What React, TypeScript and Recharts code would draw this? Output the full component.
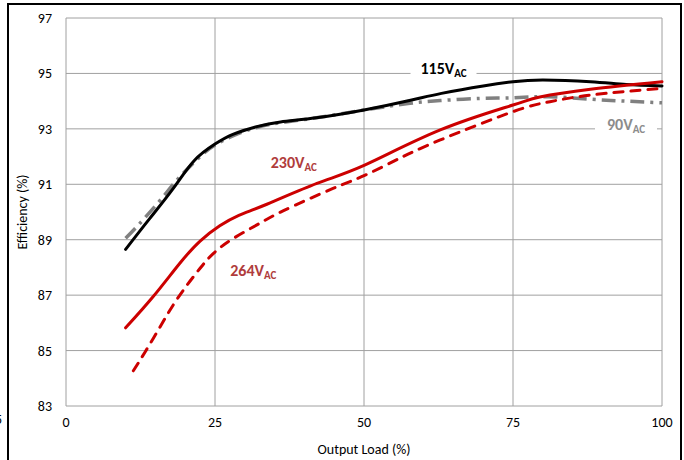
import React from 'react';
import { LineChart, Line, XAxis, YAxis, CartesianGrid, ReferenceDot, Label } from 'recharts';

const xTicks = [0, 25, 50, 75, 100];
const yTicks = [83, 85, 87, 89, 91, 93, 95, 97];

const load115 = [10, 14, 18, 21.5, 25, 28, 32, 36, 42, 50, 58, 63, 70, 75, 80, 88, 94, 100];
const eff115 = [88.65, 89.75, 90.85, 91.85, 92.45, 92.8, 93.08, 93.25, 93.4, 93.68, 94.04, 94.28, 94.55, 94.7, 94.76, 94.7, 94.6, 94.55];

const load90 = [10, 12.4, 16.3, 18.6, 22.5, 25, 28, 32, 36, 42, 50, 57.7, 62.8, 69.5, 75, 81, 88, 94, 100];
const eff90 = [89.05, 89.59, 90.55, 91.15, 92.0, 92.42, 92.75, 93.05, 93.22, 93.4, 93.68, 93.92, 94.02, 94.1, 94.12, 94.16, 94.07, 94.0, 93.94];

const load230 = [10, 14.6, 19.1, 22.5, 25.8, 29, 33.7, 42.1, 50.2, 62.8, 75, 79.5, 88, 100];
const eff230 = [85.82, 86.94, 88.15, 88.95, 89.5, 89.88, 90.28, 91.03, 91.7, 92.96, 93.86, 94.15, 94.43, 94.7];

const load264 = [11.3, 13.3, 15.8, 18, 20.3, 22.5, 24.7, 28.1, 32.5, 36.5, 44.8, 50.2, 56, 62.8, 75, 81.2, 88, 100];
const eff264 = [84.27, 84.96, 85.86, 86.65, 87.36, 87.97, 88.5, 89.05, 89.59, 90.05, 90.85, 91.33, 91.94, 92.6, 93.62, 93.98, 94.22, 94.46];

const seriesLabels = [
  { name: '115V', sub: 'AC', x: 63.34, y: 95.21, color: '#000000', bg: 66 },
  { name: '90V', sub: 'AC', x: 93.96, y: 93.17, color: '#8c8c8c', bg: 62 },
  { name: '230V', sub: 'AC', x: 38.22, y: 91.79, color: '#b03c3c', bg: 0 },
  { name: '264V', sub: 'AC', x: 31.43, y: 87.89, color: '#b03c3c', bg: 0 },
];

const toData = (xs: number[], ys: number[]) => xs.map((x, i) => ({ load: x, eff: ys[i] }));

const FONT = 'Carlito, Lato, "Open Sans", sans-serif';

const makeTag = (main: string, sub: string, color: string, bg: number) => (props: any) => {
  const { cx, cy } = props;
  return (
    <g>
      {bg > 0 && <rect x={cx - bg / 2} y={cy - 10} width={bg} height={20} fill="#ffffff" />}
      <text x={cx} y={cy} dy={6} textAnchor="middle" fill={color} fontWeight="bold" fontSize={16} fontFamily={FONT}>
        {main}
        <tspan fontSize={11} dy={3}>{sub}</tspan>
      </text>
    </g>
  );
};

export default function App() {
  return (
    <div style={{ position: 'absolute', left: 0, top: 0, width: 684, height: 460, overflow: 'hidden', background: '#fff' }}>
      <div style={{ position: 'absolute', left: 7, top: 3, width: 671, height: 480, border: '2px solid #000' }} />
      <div style={{ position: 'absolute', left: -5, top: 411, fontSize: 14, fontFamily: FONT, color: '#000' }}>5</div>
      <div style={{ position: 'absolute', left: 0, top: 0 }}>
        <LineChart width={684} height={460} margin={{ top: 18, right: 22, bottom: 14, left: 0 }}>
          <CartesianGrid stroke="#a0a0a0" strokeWidth={1} />
          <XAxis
            type="number"
            dataKey="load"
            domain={[0, 100]}
            ticks={xTicks}
            axisLine={false}
            tickLine={false}
            tickMargin={5}
            height={40}
            tick={{ fill: '#000', fontSize: 14, fontFamily: FONT }}
            allowDuplicatedCategory={false}
          >
            <Label
              content={(p: any) => {
                const vb = p.viewBox;
                return (
                  <text x={vb.x + vb.width / 2} y={vb.y + 48} textAnchor="middle" fontSize={14} fontFamily={FONT} fill="#000">
                    Output Load (%)
                  </text>
                );
              }}
            />
          </XAxis>
          <YAxis
            type="number"
            domain={[83, 97]}
            ticks={yTicks}
            axisLine={false}
            tickLine={false}
            tickMargin={8}
            width={66}
            tick={{ fill: '#000', fontSize: 14, fontFamily: FONT }}
          >
            <Label
              content={(p: any) => {
                const vb = p.viewBox;
                const cx = vb.x + 27;
                const cy = vb.y + vb.height / 2;
                return (
                  <text x={cx} y={cy} textAnchor="middle" fontSize={14} fontFamily={FONT} fill="#000" transform={`rotate(-90 ${cx} ${cy})`}>
                    Efficiency (%)
                  </text>
                );
              }}
            />
          </YAxis>
          <Line data={toData(load90, eff90)} dataKey="eff" type="natural" stroke="#808080" strokeWidth={3.5} strokeDasharray="14 6 3 6" dot={false} isAnimationActive={false} />
          <Line data={toData(load115, eff115)} dataKey="eff" type="natural" stroke="#000000" strokeWidth={3} dot={false} isAnimationActive={false} strokeLinecap="round" />
          <Line data={toData(load264, eff264)} dataKey="eff" type="natural" stroke="#cc0000" strokeWidth={3} strokeDasharray="9 8" strokeLinecap="round" dot={false} isAnimationActive={false} />
          <Line data={toData(load230, eff230)} dataKey="eff" type="natural" stroke="#cc0000" strokeWidth={3} dot={false} isAnimationActive={false} strokeLinecap="round" />
          {seriesLabels.map((s) => (
            <ReferenceDot key={s.name} x={s.x} y={s.y} r={0} shape={makeTag(s.name, s.sub, s.color, s.bg)} />
          ))}
        </LineChart>
      </div>
    </div>
  );
}
